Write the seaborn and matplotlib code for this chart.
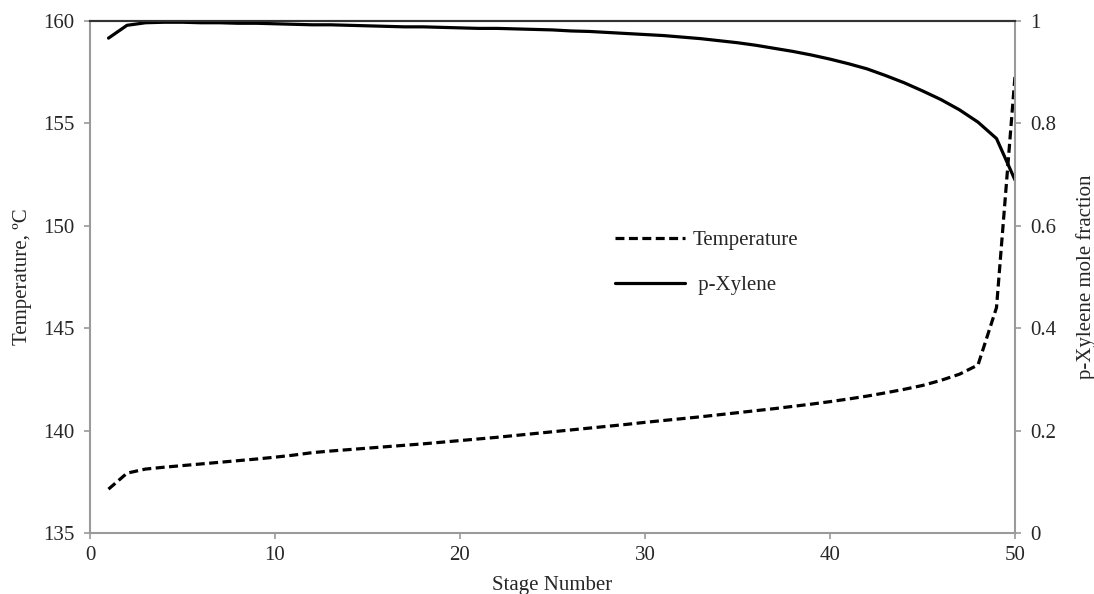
import matplotlib
matplotlib.use("Agg")
import matplotlib.pyplot as plt
import seaborn as sns
import pandas as pd
from matplotlib.lines import Line2D

stages = list(range(1, 51))
temperature = [137.14, 137.92, 138.12, 138.21, 138.29, 138.37, 138.45, 138.53, 138.61, 138.70,
               138.80, 138.92, 139.00, 139.07, 139.14, 139.21, 139.28, 139.35, 139.43, 139.51,
               139.59, 139.67, 139.76, 139.85, 139.94, 140.03, 140.12, 140.21, 140.30, 140.40,
               140.49, 140.58, 140.67, 140.77, 140.87, 140.97, 141.07, 141.18, 141.29, 141.41,
               141.54, 141.68, 141.84, 142.01, 142.20, 142.45, 142.75, 143.20, 146.00, 157.30]
pxylene = [0.966, 0.991, 0.996, 0.997, 0.997, 0.996, 0.996, 0.995, 0.995, 0.994,
           0.993, 0.992, 0.992, 0.991, 0.990, 0.989, 0.988, 0.988, 0.987, 0.986,
           0.985, 0.985, 0.984, 0.983, 0.982, 0.980, 0.979, 0.977, 0.975, 0.973,
           0.971, 0.968, 0.965, 0.961, 0.957, 0.952, 0.946, 0.940, 0.933, 0.925,
           0.916, 0.906, 0.893, 0.879, 0.863, 0.846, 0.826, 0.802, 0.770, 0.689]
x_ticks = [0, 10, 20, 30, 40, 50]
t_ticks = [135, 140, 145, 150, 155, 160]
p_ticks = [0, 0.2, 0.4, 0.6, 0.8, 1]
p_tick_labels = ["0", "0.2", "0.4", "0.6", "0.8", "1"]
legend_labels = ["Temperature", " p-Xylene"]

sns.set_style("white")
plt.rcParams['font.family'] = ['Liberation Serif', 'DejaVu Serif']
FS = 15

df = pd.DataFrame({"Stage": stages, "Temperature": temperature, "pX": pxylene})

fig = plt.figure(figsize=(10.94, 5.94), dpi=100)
ax = fig.add_axes([90/1094, 1-533/594, (1015-90)/1094, (533-20.7)/594])
ax2 = ax.twinx()

dash = (0, (2.8, 1.4))
sns.lineplot(data=df, x="Stage", y="Temperature", ax=ax, color="black", lw=2.3,
             linestyle=dash)
sns.lineplot(data=df, x="Stage", y="pX", ax=ax2, color="black", lw=2.3)

ax.set_xlim(0, 50)
ax.set_ylim(135, 160)
ax2.set_ylim(0, 1)
ax.set_xticks(x_ticks)
ax.set_yticks(t_ticks)
ax2.set_yticks(p_ticks)
ax2.set_yticklabels(p_tick_labels)

gray = "#9a9a9a"
for a in (ax, ax2):
    for s in ("left", "right", "bottom"):
        a.spines[s].set_color(gray)
        a.spines[s].set_linewidth(1.5)
    a.spines["top"].set_color("#333333")
    a.spines["top"].set_linewidth(1.5)
    a.tick_params(direction="out", length=4, width=1.2, color=gray, labelsize=FS, pad=7)
ax.spines["right"].set_visible(False)
ax2.spines["left"].set_visible(False)
ax2.spines["bottom"].set_visible(False)
ax.tick_params(axis="y", left=True, right=False)
ax.tick_params(axis="x", bottom=True, pad=5)
ax2.tick_params(axis="y", right=True, left=False)

ax.set_xlabel("Stage Number", fontsize=FS, labelpad=8)
ax.set_ylabel("Temperature, ºC", fontsize=FS, labelpad=8)
ax2.set_ylabel("p-Xyleene mole fraction", fontsize=FS, labelpad=14)

handles = [Line2D([], [], color="black", lw=2.3, linestyle=dash),
           Line2D([], [], color="black", lw=2.3)]
leg = fig.legend(handles, legend_labels, loc="upper left",
                 bbox_to_anchor=(596/1094, 1-212/594), frameon=False, fontsize=FS,
                 handlelength=3.35, labelspacing=1.2, handletextpad=0.4)

fig.savefig("out.png", dpi=100)
